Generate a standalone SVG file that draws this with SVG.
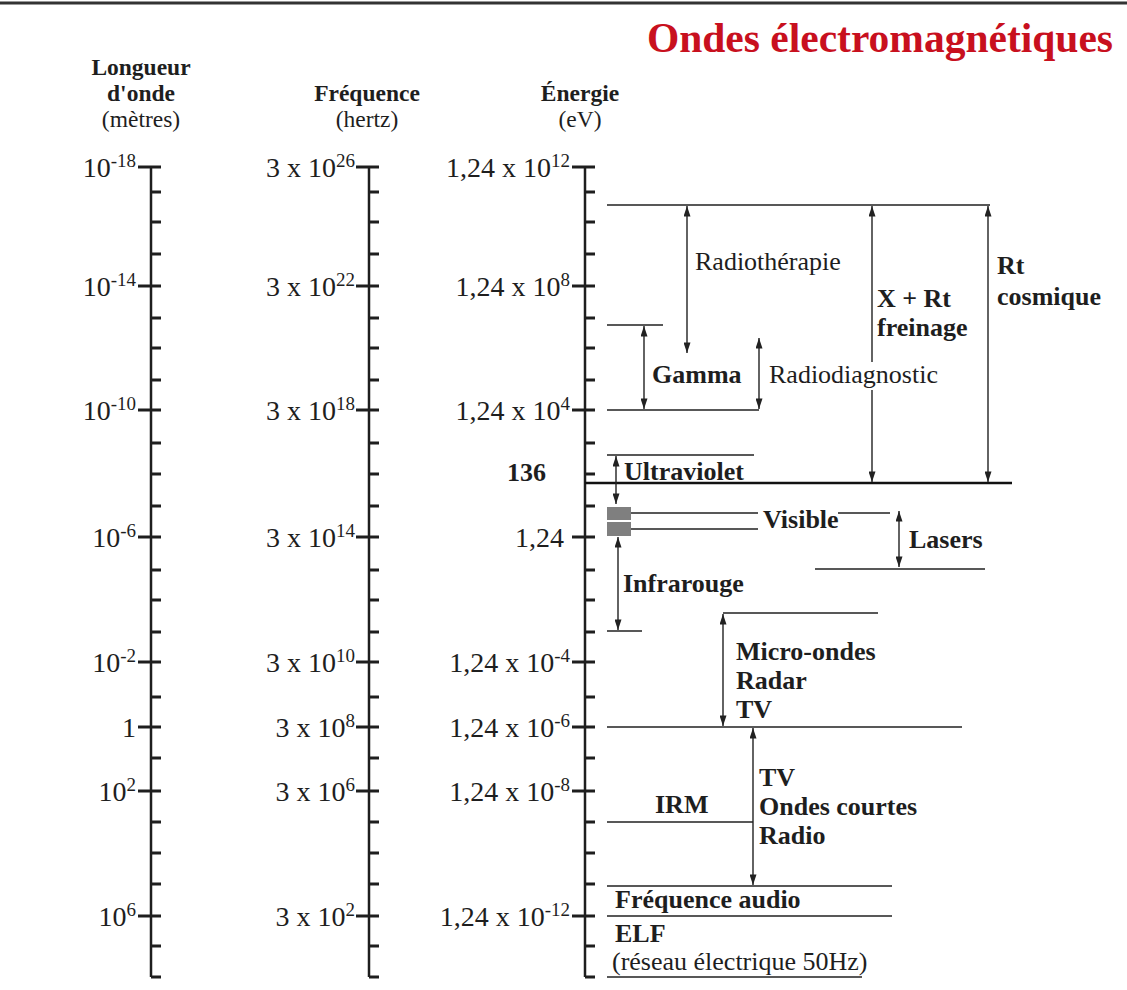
<svg xmlns="http://www.w3.org/2000/svg" width="1127" height="990" viewBox="0 0 1127 990">
<style>
.t{font-family:"Liberation Serif","Times New Roman",serif;fill:#1e1e1e}
.b{font-weight:bold}
.ax{font-size:28px}
.sup{font-size:19px}
.lab{font-size:26px}
.hd{font-size:23.5px}
.ln{stroke:#222;stroke-width:1.4;fill:none}
.thick{stroke:#111;stroke-width:2.4;fill:none}
.arr{stroke:#222;stroke-width:1.4;fill:none;marker-start:url(#ah);marker-end:url(#ah)}
.axis{stroke:#1e1e1e;stroke-width:2.5;fill:none}
.tk{stroke:#1e1e1e;stroke-width:3.2;fill:none}
</style>
<defs>
<marker id="ah" viewBox="0 0 12 8" refX="12" refY="4" markerWidth="12" markerHeight="7" markerUnits="userSpaceOnUse" orient="auto-start-reverse"><path d="M0,0 L12,4 L0,8 z" fill="#222"/></marker>
</defs>
<rect width="1127" height="990" fill="#fff"/>
<line x1="0" y1="3" x2="1127" y2="3" stroke="#333" stroke-width="3"/>

<g id="title"><text class="t b" x="1113" y="52" font-size="41.5" text-anchor="end" style="fill:#c8101e">Ondes électromagnétiques</text></g>

<g id="header-longueur" class="t hd" text-anchor="middle">
<text class="b" x="141" y="75">Longueur</text>
<text class="b" x="141" y="101">d'onde</text>
<text x="141" y="127">(mètres)</text>
</g>
<g id="header-frequence" class="t hd" text-anchor="middle">
<text class="b" x="367" y="101">Fréquence</text>
<text x="367" y="127">(hertz)</text>
</g>
<g id="header-energie" class="t hd" text-anchor="middle">
<text class="b" x="580" y="101">Énergie</text>
<text x="580" y="127">(eV)</text>
</g>

<g id="axis-longueur">
<line class="axis" x1="151" y1="167" x2="151" y2="977"/>
<path class="tk" d="M138,167H161M151,192H161M151,222H161M151,254H161M138,286H161M151,318H161M151,348H161M151,380H161M138,410H161M151,443H161M151,474H161M151,506H161M138,537H161M151,570H161M151,600H161M151,632H161M138,662H161M151,697H161M138,727H161M151,758H161M138,791H161M151,822H161M151,853H161M151,884H161M138,916H161M151,946H161M151,977H161"/>
<g class="t ax" text-anchor="end">
<text x="136" y="177">10<tspan class="sup" dy="-10">-18</tspan></text>
<text x="136" y="296">10<tspan class="sup" dy="-10">-14</tspan></text>
<text x="136" y="420">10<tspan class="sup" dy="-10">-10</tspan></text>
<text x="136" y="547">10<tspan class="sup" dy="-10">-6</tspan></text>
<text x="136" y="672">10<tspan class="sup" dy="-10">-2</tspan></text>
<text x="136" y="737">1</text>
<text x="136" y="801">10<tspan class="sup" dy="-10">2</tspan></text>
<text x="136" y="926">10<tspan class="sup" dy="-10">6</tspan></text>
</g>
</g>

<g id="axis-frequence">
<line class="axis" x1="369" y1="167" x2="369" y2="977"/>
<path class="tk" d="M356,167H379M369,192H379M369,222H379M369,254H379M356,286H379M369,318H379M369,348H379M369,380H379M356,410H379M369,443H379M369,474H379M369,506H379M356,537H379M369,570H379M369,600H379M369,632H379M356,662H379M369,697H379M356,727H379M369,758H379M356,791H379M369,822H379M369,853H379M369,884H379M356,916H379M369,946H379M369,977H379"/>
<g class="t ax" text-anchor="end">
<text x="355" y="177">3 x 10<tspan class="sup" dy="-10">26</tspan></text>
<text x="355" y="296">3 x 10<tspan class="sup" dy="-10">22</tspan></text>
<text x="355" y="420">3 x 10<tspan class="sup" dy="-10">18</tspan></text>
<text x="355" y="547">3 x 10<tspan class="sup" dy="-10">14</tspan></text>
<text x="355" y="672">3 x 10<tspan class="sup" dy="-10">10</tspan></text>
<text x="355" y="737">3 x 10<tspan class="sup" dy="-10">8</tspan></text>
<text x="355" y="801">3 x 10<tspan class="sup" dy="-10">6</tspan></text>
<text x="355" y="926">3 x 10<tspan class="sup" dy="-10">2</tspan></text>
</g>
</g>

<g id="axis-energie">
<line class="axis" x1="585" y1="167" x2="585" y2="977"/>
<path class="tk" d="M572,167H595M585,192H595M585,222H595M585,254H595M572,286H595M585,318H595M585,348H595M585,380H595M572,410H595M585,443H595M585,474H595M585,506H595M572,537H595M585,570H595M585,600H595M585,632H595M572,662H595M585,697H595M572,727H595M585,758H595M572,791H595M585,822H595M585,853H595M585,884H595M572,916H595M585,946H595M585,977H595"/>
<g class="t ax" text-anchor="end">
<text x="570" y="177">1,24 x 10<tspan class="sup" dy="-10">12</tspan></text>
<text x="570" y="296">1,24 x 10<tspan class="sup" dy="-10">8</tspan></text>
<text x="570" y="420">1,24 x 10<tspan class="sup" dy="-10">4</tspan></text>
<text x="564" y="547">1,24</text>
<text x="570" y="672">1,24 x 10<tspan class="sup" dy="-10">-4</tspan></text>
<text x="570" y="737">1,24 x 10<tspan class="sup" dy="-10">-6</tspan></text>
<text x="570" y="801">1,24 x 10<tspan class="sup" dy="-10">-8</tspan></text>
<text x="570" y="926">1,24 x 10<tspan class="sup" dy="-10">-12</tspan></text>
</g>
<text class="t b lab" x="546" y="481" text-anchor="end">136</text>
</g>

<g id="connectors">
<path class="ln" d="M607,205H990M607,325H663M607,410H759M607,455H754M607,513H758M607,529H758M838,513H890M815,569H985M607,631H642M723,613H878M607,727H962M607,822H753M607,886H892M607,916H892M607,977H862"/>
<line class="thick" x1="585" y1="483" x2="1012" y2="483"/>
<line class="arr" x1="687" y1="206" x2="687" y2="353"/>
<line class="arr" x1="644" y1="326" x2="644" y2="409"/>
<line class="arr" x1="759" y1="338" x2="759" y2="409"/>
<line class="arr" x1="872" y1="206" x2="872" y2="482"/>
<line class="arr" x1="988" y1="206" x2="988" y2="482"/>
<line class="arr" x1="616" y1="456" x2="616" y2="504"/>
<line class="arr" x1="899" y1="511" x2="899" y2="567"/>
<line class="arr" x1="618" y1="537" x2="618" y2="630"/>
<line class="arr" x1="723" y1="614" x2="723" y2="726"/>
<line class="arr" x1="753" y1="728" x2="753" y2="885"/>
</g>

<g id="node-visible-band">
<rect x="607" y="507" width="24" height="29" fill="#7f7f7f"/>
<line x1="607" y1="521" x2="631" y2="521" stroke="#fff" stroke-width="2"/>
</g>

<g id="node-radiotherapie"><text class="t lab" x="695" y="270">Radiothérapie</text></g>
<g id="node-xrt"><text class="t b lab" x="877" y="307">X + Rt</text><text class="t b lab" x="877" y="336">freinage</text></g>
<g id="node-cosmique"><text class="t b lab" x="997" y="274">Rt</text><text class="t b lab" x="997" y="305">cosmique</text></g>
<g id="node-gamma"><text class="t b lab" x="652" y="383">Gamma</text></g>
<g id="node-radiodiagnostic"><rect x="767" y="362" width="178" height="28" fill="#fff"/><text class="t lab" x="769" y="383">Radiodiagnostic</text></g>
<g id="node-ultraviolet"><text class="t b lab" x="624" y="480">Ultraviolet</text></g>
<g id="node-visible"><text class="t b lab" x="763" y="528">Visible</text></g>
<g id="node-lasers"><text class="t b lab" x="909" y="548">Lasers</text></g>
<g id="node-infrarouge"><text class="t b lab" x="623" y="592">Infrarouge</text></g>
<g id="node-microondes"><text class="t b lab" x="736" y="660">Micro-ondes</text><text class="t b lab" x="736" y="689">Radar</text><text class="t b lab" x="736" y="718">TV</text></g>
<g id="node-radio"><text class="t b lab" x="759" y="786">TV</text><text class="t b lab" x="759" y="815">Ondes courtes</text><text class="t b lab" x="759" y="844">Radio</text></g>
<g id="node-irm"><text class="t b lab" x="655" y="813">IRM</text></g>
<g id="node-audio"><text class="t b lab" x="615" y="908">Fréquence audio</text></g>
<g id="node-elf"><text class="t b lab" x="615" y="942">ELF</text><text class="t lab" x="612" y="970">(réseau électrique 50Hz)</text></g>
</svg>
